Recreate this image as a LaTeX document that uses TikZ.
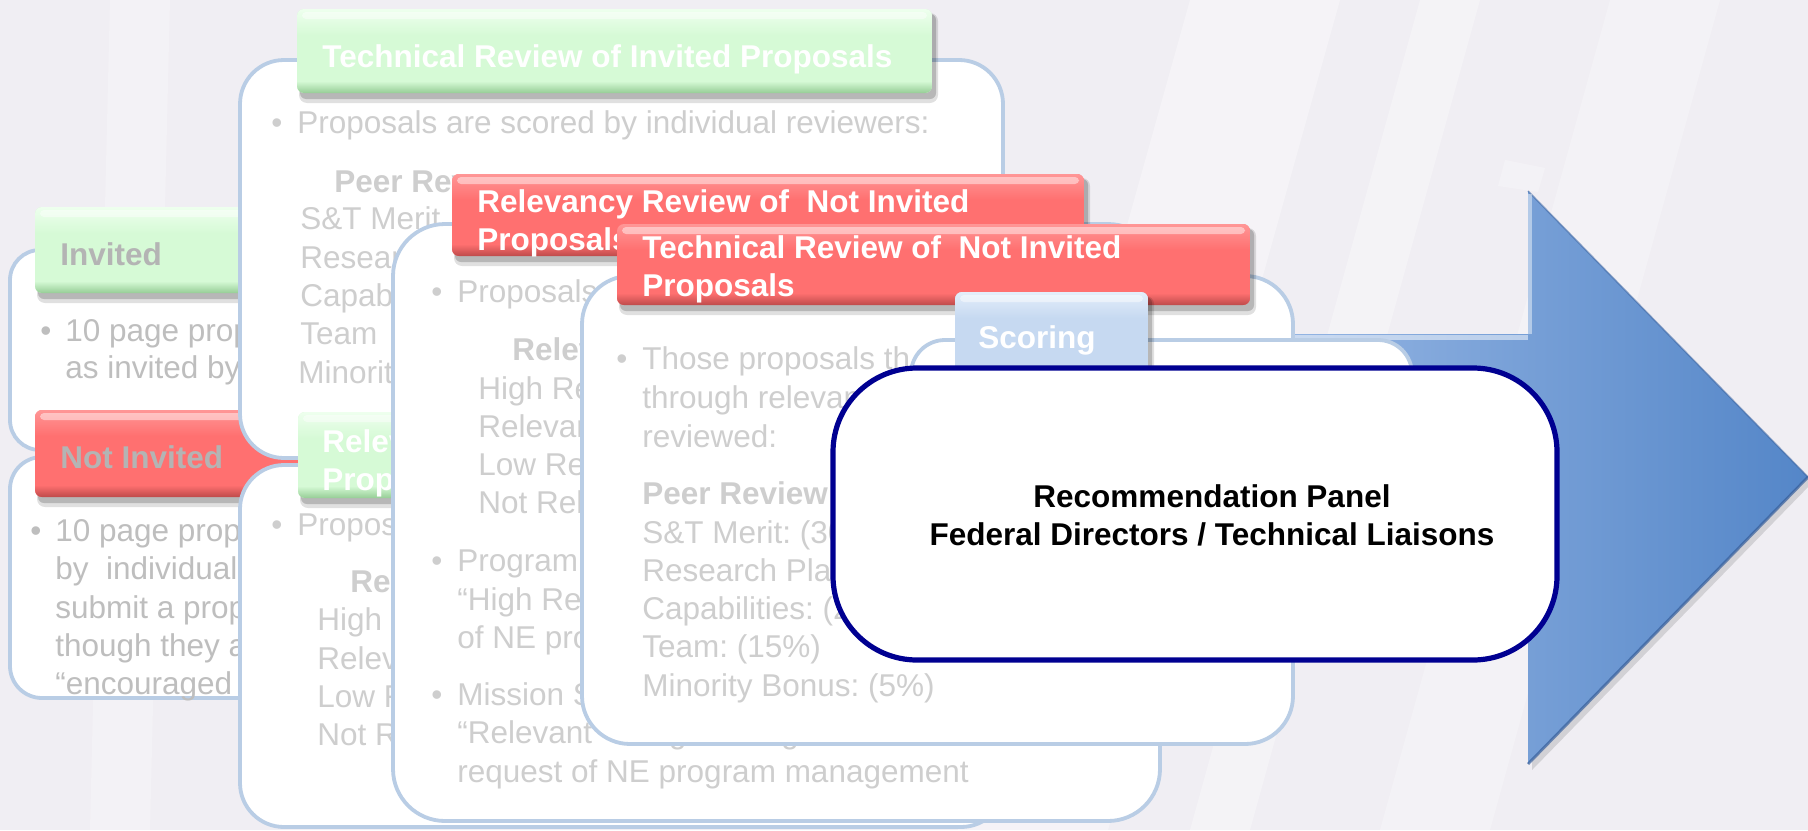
\documentclass[tikz,border=0pt]{standalone}
\usepackage{fontspec}
\setmainfont{Liberation Sans}
\usetikzlibrary{calc}
\definecolor{bg}{RGB}{240,238,243}
\definecolor{pblue}{RGB}{185,205,229}
\definecolor{tgrayA}{RGB}{190,190,190}
\definecolor{tgray}{RGB}{206,206,206}
\definecolor{ttlgray}{RGB}{180,180,180}
\definecolor{gM}{RGB}{214,250,214}
\definecolor{gL}{RGB}{238,255,238}
\definecolor{gD}{RGB}{150,205,150}
\definecolor{rM}{RGB}{255,112,112}
\definecolor{rL}{RGB}{255,150,150}
\definecolor{rD}{RGB}{190,75,75}
\definecolor{bM}{RGB}{198,217,241}
\definecolor{bL}{RGB}{228,238,250}
\definecolor{bD}{RGB}{150,178,214}
\definecolor{navy}{RGB}{0,0,145}
\definecolor{arL}{RGB}{165,193,234}
\definecolor{arR}{RGB}{84,134,200}
\definecolor{arD}{RGB}{55,95,155}
% gel tab: x1 y1 x2 y2 main light dark
\newcommand\geltab[7]{%
  \fill[black,opacity=.12,rounded corners=4pt] (#1+2,#2+4) rectangle (#3+6,#4+10);
  \fill[black,opacity=.18,rounded corners=3pt] (#1+3,#2+5) rectangle (#3+4,#4+6);
  \begin{scope}
    \clip[rounded corners=3.5pt] (#1,#2) rectangle (#3,#4);
    \fill[#5] (#1,#2) rectangle (#3,#4);
    \shade[top color=#6, bottom color=#5] (#1,#2) rectangle (#3,#2+26);
    \fill[white,opacity=.45,rounded corners=2pt] (#1+5,#2+3) rectangle (#3-5,#2+10);
    \shade[top color=#5, bottom color=#7] (#1,#4-12) rectangle (#3,#4);
  \end{scope}}
\begin{document}
\frenchspacing
\begin{tikzpicture}[x=0.5pt,y=-0.5pt,
  txt/.style={inner sep=0pt, anchor=base west, text=tgray, font=\fontsize{15.75}{19}\selectfont\frenchspacing},
  txtA/.style={txt, text=tgrayA},
  bld/.style={txt, font=\fontsize{15.75}{19}\selectfont\bfseries\frenchspacing},
  ttl/.style={inner sep=0pt, anchor=base west, text=white, font=\fontsize{15.75}{19}\selectfont\bfseries\frenchspacing},
  ttlg/.style={ttl, text=ttlgray},
  rec/.style={inner sep=0pt, anchor=base, text=black, font=\fontsize{15.75}{19}\selectfont\bfseries\frenchspacing},
  panel/.style={fill=white, draw=pblue, line width=1.9pt, rounded corners=#1}]
\useasboundingbox (0,0) rectangle (1808,830);
% background
\fill[bg] (0,0) rectangle (1808,830);
\fill[white,opacity=.35] (1190,0) -- (1340,0) -- (1108,830) -- (958,830) -- cycle;
\fill[white,opacity=.30] (1420,0) -- (1480,0) -- (1250,830) -- (1190,830) -- cycle;
\fill[white,opacity=.25] (1610,0) -- (1720,0) -- (1490,830) -- (1380,830) -- cycle;
\fill[white,opacity=.25] (1505,160) -- (1545,168) -- (1538,192) -- (1498,186) -- cycle;
\fill[white,opacity=.25] (110,0) -- (170,0) -- (150,830) -- (90,830) -- cycle;
% big arrow
\fill[black,opacity=.12] (1154,340) -- (1532,340) -- (1532,197) -- (1812,483) -- (1532,770) -- (1532,626) -- (1154,626) -- cycle;
\shade[left color=arL, right color=arR] (1150,334) -- (1528,334) -- (1528,191) -- (1808,477) -- (1528,764) -- (1528,620) -- (1150,620) -- cycle;
\draw[arD, line width=1.4pt, opacity=.7] (1528,764) -- (1808,477);
\draw[arD, line width=.8pt, opacity=.5] (1528,191) -- (1808,477);
\draw[white, line width=2pt, opacity=.45] (1530,194) -- (1530,334);
\draw[white, line width=2.5pt, opacity=.5] (1150,337) -- (1528,337);
% ---------- Invited
\path[panel=15pt] (10,250) rectangle (300,450);
\geltab{35}{207}{280}{293}{gM}{gL}{gD}
\node[ttlg] (invT) at (60,265) {Invited};
\node[txtA] (invB) at (40,341) {•};
\node[txtA] (inv1) at (65,341) {10 page prop};
\node[txtA] (inv2) at (65,378) {as invited by};
% ---------- Not Invited
\path[panel=16pt] (10,457) rectangle (300,698);
\geltab{35}{410}{320}{497}{rM}{rL}{rD}
\node[ttlg] (ninvT) at (60,468) {Not Invited};
\node[txtA] (ninvB) at (30,541) {•};
\node[txtA] (ninv1) at (55,541) {10 page prop};
\node[txtA] (ninv2) at (55,579) {by~ individual};
\node[txtA] (ninv3) at (55,618) {submit a prop};
\node[txtA] (ninv4) at (55,656) {though they a};
\node[txtA] (ninv5) at (55,694) {“encouraged};
% ---------- Technical Review of Invited Proposals
\path[panel=22pt] (240,60) rectangle (1003,458);
\geltab{297}{9}{932}{93}{gM}{gL}{gD}
\node[ttl] (triT) at (322,67) {Technical Review of Invited Proposals};
\node[txt] (triB) at (271,133) {•};
\node[txt] (tri1) at (297,133) {Proposals are scored by individual reviewers:};
\node[bld] (tri2) at (334,192) {Peer Rev};
\node[txt] (tri3) at (300,229) {S\&T Merit};
\node[txt] (tri4) at (300,268) {Research};
\node[txt] (tri5) at (300,306) {Capabil};
\node[txt] (tri6) at (300,344) {Team};
\node[txt] (tri7) at (298,383) {Minority};
% ---------- Relevancy Review of Invited Proposals
\path[panel=22pt] (240,465) rectangle (1005,827);
\geltab{298}{412}{700}{498}{gM}{gL}{gD}
\node[ttl] (rinvT1) at (322,452) {Relev};
\node[ttl] (rinvT2) at (322,490) {Propo};
\node[txt] (rinvB) at (271,535) {•};
\node[txt] (rinv1) at (297,535) {Proposa};
\node[bld] (rinv2) at (350,592) {Rele};
\node[txt] (rinv3) at (317,630) {High R};
\node[txt] (rinv4) at (317,669) {Relev};
\node[txt] (rinv5) at (317,707) {Low R};
\node[txt] (rinv6) at (317,745) {Not R};
% ---------- Relevancy Review of Not Invited Proposals
\path[panel=26pt] (393,224) rectangle (1160,821);
\geltab{452}{174}{1084}{256}{rM}{rL}{rD}
\node[ttl] (rniT1) at (477,212) {Relevancy Review of~ Not Invited};
\node[ttl] (rniT2) at (477,250) {Proposals};
\node[txt] (rniB1) at (431,302) {•};
\node[txt] (rni1) at (457,302) {Proposals};
\node[bld] (rni2) at (512,360) {Relev};
\node[txt] (rni3) at (478,399) {High Re};
\node[txt] (rni4) at (478,437) {Relevan};
\node[txt] (rni5) at (478,475) {Low Re};
\node[txt] (rni6) at (478,513) {Not Rel};
\node[txt] (rniB2) at (431,571) {•};
\node[txt] (rni7) at (457,571) {Program};
\node[txt] (rni8) at (457,610) {“High Re};
\node[txt] (rni9) at (457,648) {of NE pro};
\node[txt] (rniB3) at (431,705) {•};
\node[txt] (rni10) at (457,705) {Mission S};
\node[txt] (rni11) at (457,743) {“Relevant” designation granted at the};
\node[txt] (rni12) at (457,782) {request of NE program management};
% ---------- Technical Review of Not Invited Proposals
\path[panel=24pt] (582,276) rectangle (1293,744);
\geltab{617}{224}{1250}{305}{rM}{rL}{rD}
\node[ttl] (tniT1) at (642,258) {Technical Review of~ Not Invited};
\node[ttl] (tniT2) at (642,296) {Proposals};
\node[txt] (tniB) at (616,369) {•};
\node[txt] (tni1) at (642,369) {Those proposals th};
\node[txt] (tni2) at (642,408) {through relevan};
\node[txt] (tni3) at (642,447) {reviewed:};
\node[bld] (tni4) at (642,504) {Peer Review};
\node[txt] (tni5) at (642,543) {S\&T Merit: (30};
\node[txt] (tni6) at (642,581) {Research Plan};
\node[txt] (tni7) at (642,619) {Capabilities: (2};
\node[txt] (tni8) at (642,657) {Team: (15\%)};
\node[txt] (tni9) at (642,696) {Minority Bonus: (5\%)};
% ---------- Scoring
\path[panel=17pt] (911,340) rectangle (1412,640);
\geltab{955}{292}{1148}{392}{bM}{bL}{bD}
\node[ttl] (scT) at (978,348) {Scoring};
% ---------- Recommendation panel
\path[fill=white, draw=navy, line width=2.6pt, rounded corners=42pt] (833,368) rectangle (1557,660);
\node[rec] (rec1) at (1212,507) {Recommendation Panel};
\node[rec] (rec2) at (1212,545) {Federal Directors / Technical Liaisons};
\end{tikzpicture}
\end{document}
